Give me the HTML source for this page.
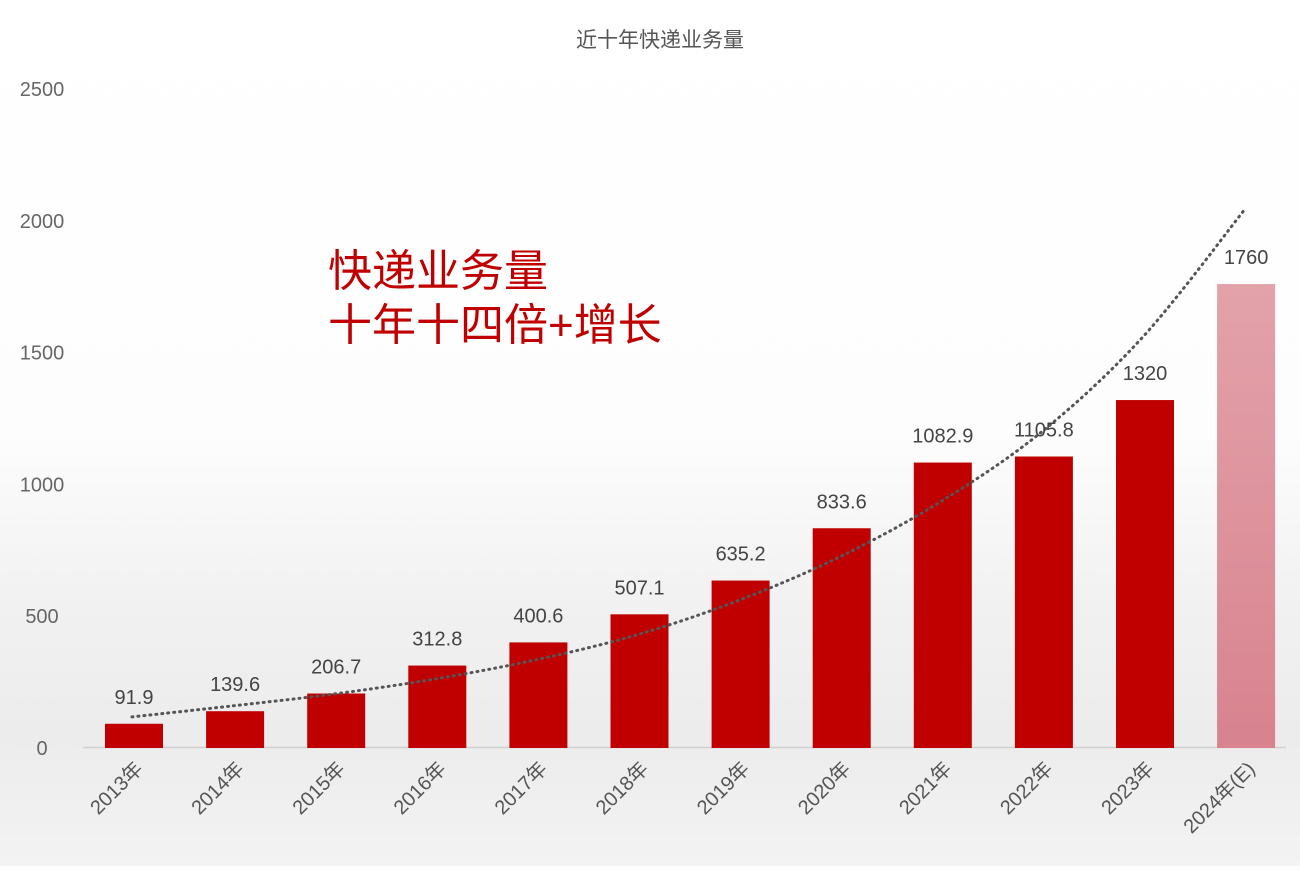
<!DOCTYPE html>
<html><head><meta charset="utf-8">
<style>
html,body{margin:0;padding:0;}
body{width:1300px;height:866px;overflow:hidden;background:linear-gradient(#ffffff 0%,#fdfdfd 50%,#f1f1f1 70%,#ececec 85%,#f3f3f3 100%);font-family:"Liberation Sans","Noto Sans CJK SC",sans-serif;}
svg text{font-family:"Liberation Sans","Noto Sans CJK SC",sans-serif;}
</style></head>
<body>
<svg id="chart" width="1300" height="866" xmlns="http://www.w3.org/2000/svg">
<defs><linearGradient id="pg" x1="0" y1="0" x2="0" y2="1"><stop offset="0" stop-color="#e3a2aa"/><stop offset="1" stop-color="#d8838f"/></linearGradient></defs>
<text x="660" y="47" text-anchor="middle" font-size="21" fill="#555">近十年快递业务量</text>
<g id="yaxis"></g>
<line x1="83" y1="747.5" x2="1286" y2="747.5" stroke="#d0d0d0" stroke-width="1.5"/>
<g id="bars"></g>
<path id="trend" fill="none" stroke="#555" stroke-width="3" stroke-dasharray="1 5" stroke-linecap="round"/>
<g id="labels"></g>
<g id="xlabels"></g>
<text x="328" y="286" font-size="44" fill="#c00000">快递业务量</text>
<text x="328" y="340" font-size="44" fill="#c00000">十年十四倍+增长</text>
</svg>
<script>
const categories=["2013年","2014年","2015年","2016年","2017年","2018年","2019年","2020年","2021年","2022年","2023年","2024年(E)"];
const values=[91.9,139.6,206.7,312.8,400.6,507.1,635.2,833.6,1082.9,1105.8,1320,1760];
const valueLabels=["91.9","139.6","206.7","312.8","400.6","507.1","635.2","833.6","1082.9","1105.8","1320","1760"];
const trendValues=[118,160,205,262,335,430,560,725,935,1200,1560,2040];
const yTicks=[0,500,1000,1500,2000,2500];
const NS="http://www.w3.org/2000/svg";
const y=v=>748-v*0.2636;
const x=i=>134+i*101.1;
const bw=58;
function mk(tag,attrs,parent){const e=document.createElementNS(NS,tag);for(const k in attrs)e.setAttribute(k,attrs[k]);parent.appendChild(e);return e;}
const ya=document.getElementById('yaxis');
yTicks.forEach(t=>{const e=mk('text',{x:42,y:y(t)+7,'text-anchor':'middle','font-size':20,fill:'#666'},ya);


e.textContent=t;});
const bg=document.getElementById('bars'),lg=document.getElementById('labels'),xg=document.getElementById('xlabels');
values.forEach((v,i)=>{const last=i===values.length-1;
const r=mk('rect',{x:x(i)-bw/2,y:y(v),width:bw,height:748-y(v),fill:last?'url(#pg)':'#c00000'},bg);


const t=mk('text',{x:x(i),y:y(v)-20,'text-anchor':'middle','font-size':20,fill:'#444'},lg);


t.textContent=valueLabels[i];
const xl=mk('text',{x:0,y:0,'text-anchor':'end','font-size':20,fill:'#555',transform:`translate(${x(i)+10},${770}) rotate(-45)`},xg);


xl.textContent=categories[i];});
const pts=trendValues.map((v,i)=>[x(i)-2,y(v)]);
let d='M'+pts[0][0]+','+pts[0][1];
for(let i=0;i<pts.length-1;i++){const p0=pts[Math.max(i-1,0)],p1=pts[i],p2=pts[i+1],p3=pts[Math.min(i+2,pts.length-1)];
const c1=[p1[0]+(p2[0]-p0[0])/6,p1[1]+(p2[1]-p0[1])/6],c2=[p2[0]-(p3[0]-p1[0])/6,p2[1]-(p3[1]-p1[1])/6];
d+=` C${c1[0]},${c1[1]} ${c2[0]},${c2[1]} ${p2[0]},${p2[1]}`;}
document.getElementById('trend').setAttribute('d',d);
</script>
</body></html>
